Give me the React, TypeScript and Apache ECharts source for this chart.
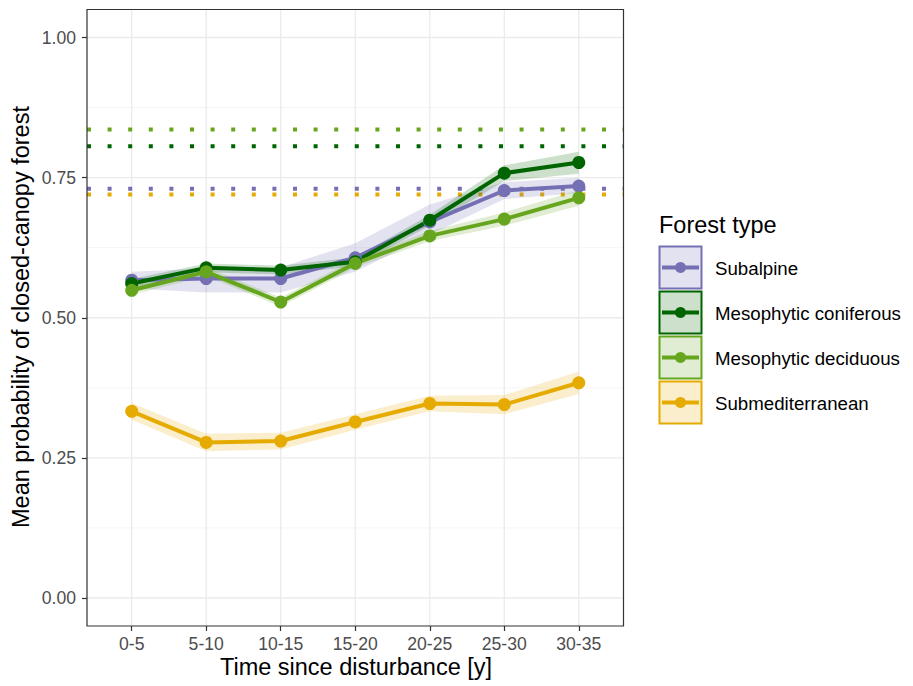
import React, { useEffect, useRef } from "react";
import * as echarts from "echarts";

const categories = ["0-5", "5-10", "10-15", "15-20", "20-25", "25-30", "30-35"];
const seriesNames = ["Subalpine", "Mesophytic coniferous", "Mesophytic deciduous", "Submediterranean"];
const colors = ["#7570B3", "#006400", "#66A61E", "#E6AB02"];
const ribbonColors = ["rgba(117,112,179,0.2)", "rgba(0,100,0,0.2)", "rgba(102,166,30,0.2)", "rgba(230,171,2,0.2)"];

const subalpine = [0.567, 0.570, 0.570, 0.607, 0.671, 0.727, 0.735];
const subalpineLo = [0.552, 0.545, 0.545, 0.582, 0.648, 0.712, 0.722];
const subalpineHi = [0.582, 0.588, 0.590, 0.633, 0.702, 0.742, 0.750];

const coniferous = [0.561, 0.589, 0.585, 0.600, 0.674, 0.758, 0.777];
const coniferousLo = [0.553, 0.581, 0.577, 0.592, 0.664, 0.744, 0.757];
const coniferousHi = [0.569, 0.597, 0.593, 0.608, 0.684, 0.772, 0.796];

const deciduous = [0.549, 0.582, 0.528, 0.597, 0.646, 0.676, 0.714];
const deciduousLo = [0.541, 0.574, 0.520, 0.589, 0.637, 0.664, 0.700];
const deciduousHi = [0.557, 0.590, 0.536, 0.605, 0.655, 0.688, 0.728];

const submed = [0.333, 0.2775, 0.280, 0.314, 0.347, 0.345, 0.384];
const submedLo = [0.318, 0.262, 0.265, 0.300, 0.333, 0.328, 0.364];
const submedHi = [0.348, 0.293, 0.295, 0.328, 0.361, 0.362, 0.404];

const referenceLevels = [0.730, 0.806, 0.836, 0.720];

const yTicks = [0, 0.25, 0.5, 0.75, 1];
const yMinorGrid = [0.125, 0.375, 0.625, 0.875];

const means = [subalpine, coniferous, deciduous, submed];
const lows = [subalpineLo, coniferousLo, deciduousLo, submedLo];
const highs = [subalpineHi, coniferousHi, deciduousHi, submedHi];

const X_MIN = -0.6;
const X_MAX = categories.length - 1 + 0.6;
const Y_MIN = -0.05;
const Y_MAX = 1.05;
const FONT = "'Liberation Sans', Arial, sans-serif";

export default function App() {
  const ref = useRef<HTMLDivElement>(null);

  useEffect(() => {
    const chart = echarts.init(ref.current!, null, { renderer: "svg" });
    const xIdx = categories.map((_, i) => i);

    const gridLine = (data: number[][], vertical: boolean, stroke: string, lw: number) => ({
      type: "custom",
      silent: true,
      z: 0,
      data,
      renderItem: (_p: any, api: any) => {
        let a: number[];
        let b: number[];
        if (vertical) {
          const x = api.value(0);
          a = api.coord([x, Y_MIN]);
          b = api.coord([x, Y_MAX]);
        } else {
          const y = api.value(1);
          a = api.coord([X_MIN, y]);
          b = api.coord([X_MAX, y]);
        }
        return { type: "line", shape: { x1: a[0], y1: a[1], x2: b[0], y2: b[1] }, style: { stroke, lineWidth: lw } };
      },
    });

    const gridSeries: any[] = [
      gridLine(yMinorGrid.map((v) => [0, v]), false, "#F2F2F2", 0.8),
      gridLine(xIdx.map((i) => [i, 0]), true, "#EBEBEB", 1.3),
      gridLine(yTicks.map((v) => [0, v]), false, "#EBEBEB", 1.3),
    ];

    const hlineSeries = referenceLevels.map((v, k) => ({
      type: "line",
      silent: true,
      z: 2,
      symbol: "none",
      data: [[X_MIN, v], [X_MAX, v]],
      lineStyle: { color: colors[k], width: 4, type: [4, 16.6], cap: "butt" },
    }));

    const ribbonSeries = means.map((_, k) => ({
      type: "custom",
      silent: true,
      z: 3,
      data: [[0, lows[k][0]]],
      renderItem: (_p: any, api: any) => {
        const pts: number[][] = [];
        for (let i = 0; i < highs[k].length; i++) pts.push(api.coord([i, highs[k][i]]));
        for (let i = lows[k].length - 1; i >= 0; i--) pts.push(api.coord([i, lows[k][i]]));
        return { type: "polygon", shape: { points: pts }, style: { fill: ribbonColors[k] } };
      },
    }));

    const lineSeries = means.map((vals, k) => ({
      type: "line",
      name: seriesNames[k],
      silent: true,
      z: 4,
      symbol: "none",
      data: vals.map((v, i) => [i, v]),
      lineStyle: { color: colors[k], width: 4 },
    }));

    const pointSeries = means.map((vals, k) => ({
      type: "scatter",
      name: seriesNames[k],
      silent: true,
      z: 5,
      symbolSize: 13,
      data: vals.map((v, i) => [i, v]),
      itemStyle: { color: colors[k], opacity: 1 },
    }));

    const legendGraphics: any[] = [
      {
        type: "text",
        x: 659,
        y: 225,
        style: { text: "Forest type", font: `23.5px ${FONT}`, fill: "#000", verticalAlign: "middle" },
      },
    ];
    const boxTops = [246.5, 291.5, 336.5, 381.5];
    seriesNames.forEach((name, k) => {
      const top = boxTops[k];
      const cy = top + 21;
      legendGraphics.push(
        { type: "rect", shape: { x: 659.5, y: top, width: 42, height: 42 }, style: { fill: ribbonColors[k], stroke: colors[k], lineWidth: 2 } },
        { type: "line", shape: { x1: 662, y1: cy, x2: 699, y2: cy }, style: { stroke: colors[k], lineWidth: 4 } },
        { type: "circle", shape: { cx: 680.5, cy, r: 5.5 }, style: { fill: colors[k] } },
        { type: "text", x: 715, y: cy + 1, style: { text: name, font: `18.7px ${FONT}`, fill: "#000", verticalAlign: "middle" } }
      );
    });

    const option: any = {
      animation: false,
      backgroundColor: "#fff",
      grid: { left: 87, top: 9.5, width: 536.5, height: 616.5, containLabel: false },
      xAxis: {
        type: "value",
        min: X_MIN,
        max: X_MAX,
        axisLine: { show: false, onZero: false },
        splitLine: { show: false },
        axisTick: { show: true, customValues: xIdx, length: 5, lineStyle: { color: "#333", width: 1.2 } },
        axisLabel: {
          customValues: xIdx,
          formatter: (v: number) => categories[Math.round(v)],
          color: "#4D4D4D",
          fontSize: 17.6,
          fontFamily: FONT,
          margin: 9,
        },
      },
      yAxis: {
        type: "value",
        min: Y_MIN,
        max: Y_MAX,
        axisLine: { show: false, onZero: false },
        splitLine: { show: false },
        axisTick: { show: true, customValues: yTicks, length: 5, lineStyle: { color: "#333", width: 1.2 } },
        axisLabel: {
          customValues: yTicks,
          formatter: (v: number) => v.toFixed(2),
          color: "#4D4D4D",
          fontSize: 17.6,
          fontFamily: FONT,
          margin: 11,
        },
      },
      graphic: [
        {
          type: "rect",
          z: 100,
          silent: true,
          shape: { x: 87, y: 9.5, width: 536.5, height: 616.5 },
          style: { fill: "none", stroke: "#333", lineWidth: 1.2 },
        },
        {
          type: "text",
          x: 356,
          y: 667,
          style: { text: "Time since disturbance [y]", font: `23.5px ${FONT}`, fill: "#000", align: "center", verticalAlign: "middle" },
        },
        {
          type: "text",
          x: 21,
          y: 317,
          rotation: Math.PI / 2,
          style: { text: "Mean probability of closed-canopy forest", font: `23.5px ${FONT}`, fill: "#000", align: "center", verticalAlign: "middle" },
        },
        ...legendGraphics,
      ],
      series: [...gridSeries, ...hlineSeries, ...ribbonSeries, ...lineSeries, ...pointSeries],
    };

    chart.setOption(option);
    return () => chart.dispose();
  }, []);

  return <div ref={ref} style={{ position: "fixed", left: 0, top: 0, width: 913, height: 686 }} />;
}
